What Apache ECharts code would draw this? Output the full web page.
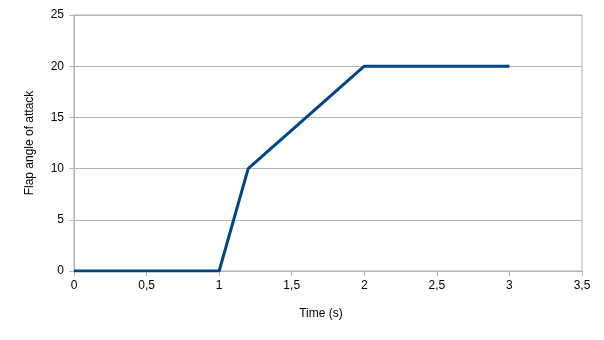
<!DOCTYPE html>
<html>
<head>
<meta charset="utf-8">
<script src="https://cdn.jsdelivr.net/npm/echarts@6/dist/echarts.min.js"></script>
<style>html,body{margin:0;padding:0;background:#fff}#c{width:604px;height:340px}</style>
</head>
<body>
<div id="c"></div>
<script>
const timeValues = [0, 1, 1.2, 2, 3];
const angleValues = [0, 0, 10, 20, 20];
const xAxisName = 'Time (s)';
const yAxisName = 'Flap angle of attack';

const chart = echarts.init(document.getElementById('c'), null, {renderer: 'canvas'});
const gray = '#b3b3b3';
const font = 'Liberation Sans, Arial, sans-serif';
chart.setOption({
  animation: false,
  backgroundColor: '#ffffff',
  grid: {left: 74, right: 22, top: 15, bottom: 69, show: true, borderColor: gray, borderWidth: 1},
  xAxis: {
    type: 'value', min: 0, max: 3.5, interval: 0.5,
    name: xAxisName, nameLocation: 'middle', nameGap: 37,
    nameTextStyle: {color: '#000', fontSize: 12, fontFamily: font, padding: [0, 14, 0, 0]},
    axisLine: {lineStyle: {color: gray}},
    axisTick: {show: true, length: 5, lineStyle: {color: gray}},
    splitLine: {show: false},
    axisLabel: {color: '#000', fontSize: 12, fontFamily: font, margin: 9,
      formatter: v => String(v).replace('.', ',')}
  },
  yAxis: {
    type: 'value', min: 0, max: 25, interval: 5,
    name: yAxisName, nameLocation: 'middle', nameGap: 38,
    nameTextStyle: {color: '#000', fontSize: 12, fontFamily: font},
    axisLine: {show: true, lineStyle: {color: gray}},
    axisTick: {show: true, length: 5, lineStyle: {color: gray}},
    splitLine: {show: true, lineStyle: {color: gray}},
    axisLabel: {color: '#000', fontSize: 12, fontFamily: font, margin: 10}
  },
  series: [{
    type: 'line',
    data: timeValues.map((t, i) => [t, angleValues[i]]),
    showSymbol: false,
    lineStyle: {color: '#004586', width: 3},
    itemStyle: {color: '#004586'}
  }]
});
</script>
</body>
</html>
